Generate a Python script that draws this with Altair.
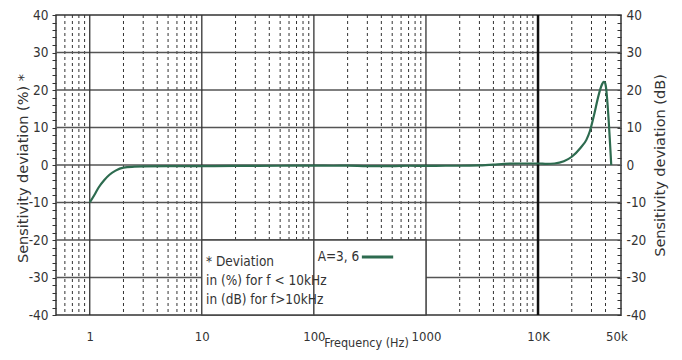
import altair as alt
import pandas as pd

# ---- data ----
freq = [1, 1.1, 1.2, 1.35, 1.5, 1.7, 2, 2.5, 3, 5, 10, 20, 50, 100, 150, 200, 300,
        500, 700, 1000, 1500, 2000, 3000, 4000, 5000, 7000, 10000, 12000, 14000,
        17000, 20000, 24000, 27000, 29000, 32000, 34000, 36000, 37500, 38500,
        39500, 40500, 42000, 45000]
dev = [-10, -8, -6, -4, -2.6, -1.5, -0.7, -0.45, -0.35, -0.3, -0.3, -0.25, -0.2,
       -0.15, -0.2, -0.15, -0.3, -0.3, -0.2, -0.25, -0.2, -0.2, -0.1, 0.1, 0.3,
       0.4, 0.4, 0.3, 0.4, 1.0, 2.2, 4.6, 6.7, 9.0, 14, 17.5, 20.3, 21.7, 22.2,
       22, 20.5, 15, 0]

minor_grid = [0.6, 0.7, 0.8, 0.9, 2, 3, 4, 5, 6, 7, 8, 9, 20, 30, 40, 50, 60, 70,
              80, 90, 200, 300, 400, 500, 600, 700, 800, 900, 2000, 3000, 4000,
              5000, 6000, 7000, 8000, 9000, 20000, 30000, 40000]
decade_grid = [1, 10, 100, 1000]
strong_grid = [10000]
h_grid = [-30, -20, -10, 0, 10, 20, 30]

x_ticks = [1, 10, 100, 1000, 10000, 50000]
x_labels = ["1", "10", "100", "1000", "10K", "50k"]
y_ticks = list(range(-40, 41, 2))

box_x1 = [10, 100]
box_x2 = [100, 1000]
box_y1 = [-40, -40]
box_y2 = [-20, -20]

note_lines = ["* Deviation", "in (%) for f < 10kHz", "in (dB) for f>10kHz"]
note_x = [10.9, 10.9, 10.9]
note_y = [-25.9, -31, -36]

legend_label = "A=3, 6"
legend_text_x = 108
legend_y = -24.5
legend_line_x = [268, 510]

CURVE = "#2d6b4f"
DARK = "#333333"
NARROW = "'DejaVu Sans Condensed', 'Liberation Sans Narrow', 'Liberation Sans', sans-serif"

curve_df = pd.DataFrame({"f": freq, "d": dev})
xscale = alt.Scale(type="log", domain=[0.5, 55000], nice=False)
yscale = alt.Scale(domain=[-40, 40], nice=False, zero=False)

lab_expr = "{" + ",".join(f"'{v}':'{l}'" for v, l in zip(x_ticks, x_labels)) + "}[datum.value]"

x_axis = alt.Axis(values=x_ticks, labelExpr=lab_expr, grid=False, ticks=False,
                  domain=False, labelPadding=15, labelFont=NARROW,
                  labelFontSize=13, labelColor=DARK, labelFlush=False,
                  title="Frequency (Hz)", titleFont=NARROW,
                  titleFontSize=12.5, titleFontWeight="normal", titleColor=DARK,
                  titleX=310, titleY=27, titleBaseline="middle", titleAlign="center")

y_label_expr = "datum.value % 10 == 0 ? '' + datum.value : ''"
left_axis = alt.Axis(values=y_ticks, labelExpr=y_label_expr, grid=False, domain=False,
                     tickSize=4, tickColor=DARK, labelPadding=4,
                     labelFont=NARROW, labelFontSize=13.5, labelColor=DARK,
                     title="Sensitivity deviation (%) *", titleFont="DejaVu Sans",
                     titleFontSize=14.5, titleFontWeight="normal", titleColor=DARK,
                     titleX=-33, titleY=153, titleAngle=270, titleBaseline="middle",
                     titleAlign="center")
right_axis = alt.Axis(orient="right", values=y_ticks, labelExpr=y_label_expr,
                      grid=False, domain=False, tickSize=4, tickColor=DARK, offset=-4,
                      labelPadding=5, labelFont=NARROW, labelFontSize=13.5,
                      labelColor=DARK, title="Sensitivity deviation (dB)",
                      titleFont="DejaVu Sans", titleFontSize=14.5,
                      titleFontWeight="normal", titleColor=DARK, titleX=43, titleY=150,
                      titleAngle=270, titleBaseline="middle", titleAlign="center")

minor = alt.Chart(pd.DataFrame({"f": minor_grid})).mark_rule(
    color=DARK, strokeWidth=1, strokeDash=[3, 3]).encode(
    x=alt.X("f:Q", scale=xscale, axis=x_axis))

hlines = alt.Chart(pd.DataFrame({"d": h_grid})).mark_rule(
    color="#555555", strokeWidth=1.5).encode(
    y=alt.Y("d:Q", scale=yscale, axis=right_axis))

decades = alt.Chart(pd.DataFrame({"f": decade_grid})).mark_rule(
    color=DARK, strokeWidth=1.3).encode(x=alt.X("f:Q", scale=xscale, axis=None))

strong = alt.Chart(pd.DataFrame({"f": strong_grid})).mark_rule(
    color="#111111", strokeWidth=2.5).encode(x=alt.X("f:Q", scale=xscale, axis=None))

boxes = alt.Chart(pd.DataFrame({"x1": box_x1, "x2": box_x2, "y1": box_y1,
                                "y2": box_y2})).mark_rect(
    fill="white", stroke="#444444", strokeWidth=1.3).encode(
    x=alt.X("x1:Q", scale=xscale, axis=None), x2="x2:Q",
    y=alt.Y("y1:Q", scale=yscale, axis=None), y2="y2:Q")

curve = alt.Chart(curve_df).mark_line(color=CURVE, strokeWidth=2.2,
                                      interpolate="monotone").encode(
    x=alt.X("f:Q", scale=xscale, axis=None),
    y=alt.Y("d:Q", scale=yscale, axis=left_axis))

notes = alt.Chart(pd.DataFrame({"t": note_lines, "x": note_x, "y": note_y})).mark_text(
    align="left", baseline="middle", font=NARROW, fontSize=13.5,
    color=DARK).encode(
    x=alt.X("x:Q", scale=xscale, axis=None), y=alt.Y("y:Q", scale=yscale, axis=None),
    text="t:N")

leg_text = alt.Chart(pd.DataFrame({"t": [legend_label], "x": [legend_text_x],
                                   "y": [legend_y]})).mark_text(
    align="left", baseline="middle", font=NARROW, fontSize=13.5,
    color=DARK).encode(
    x=alt.X("x:Q", scale=xscale, axis=None), y=alt.Y("y:Q", scale=yscale, axis=None),
    text="t:N")

leg_line = alt.Chart(pd.DataFrame({"x": legend_line_x,
                                   "y": [legend_y, legend_y]})).mark_line(
    color=CURVE, strokeWidth=3).encode(
    x=alt.X("x:Q", scale=xscale, axis=None), y=alt.Y("y:Q", scale=yscale, axis=None))

chart = alt.layer(minor, hlines, decades, strong, boxes, curve, notes, leg_text,
                  leg_line).resolve_axis(y="independent", x="independent").properties(
    width=565, height=300,
    autosize=alt.AutoSizeParams(type="none"),
    padding={"left": 48, "top": 7, "right": 53, "bottom": 37},
    background="white",
).configure_view(stroke=DARK, strokeWidth=1.5)

chart.save("out.html", embed_options={"renderer": "svg", "actions": False})
